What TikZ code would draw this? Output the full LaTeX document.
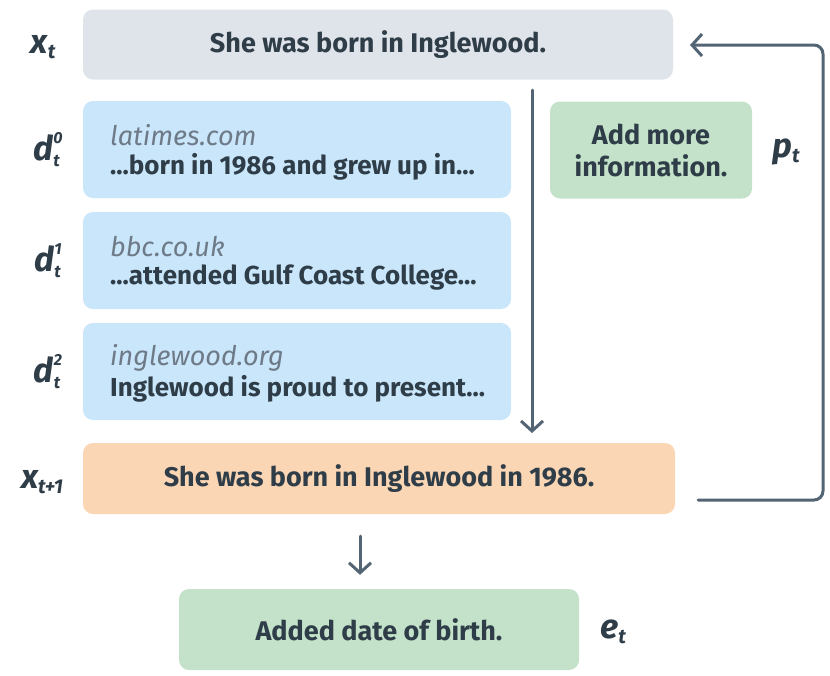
\documentclass[tikz,border=0pt]{standalone}
\usepackage{fontspec}
\setmainfont{Fira Sans}
\usetikzlibrary{arrows.meta}

\definecolor{ink}{HTML}{2E3D48}
\definecolor{line}{HTML}{536474}
\definecolor{site}{HTML}{6E7A88}
\definecolor{grayfill}{HTML}{DFE3EA}
\definecolor{bluefill}{HTML}{C9E6FA}
\definecolor{greenfill}{HTML}{C4E2CA}
\definecolor{orangefill}{HTML}{FBD6B4}

% variable with subscript, or with stacked super- and subscript
\newcommand{\symsub}[2]{#1\raisebox{-5pt}{\fontsize{20}{20}\selectfont #2}}
\newcommand{\symboth}[3]{#1\raisebox{-6pt}{\fontsize{17}{23}\selectfont
  \begin{tabular}[b]{@{}l@{}}\fontsize{16}{23}\selectfont #3\\#2\end{tabular}}}
\newcommand{\ellip}{...}

\begin{document}
\begin{tikzpicture}
  [x=1pt,y=-1pt,every node/.style={inner sep=0pt,text=ink,font=\fontsize{27}{32}\selectfont\bfseries},
   box/.style={rounded corners=10pt,minimum height=#1},
   lbl/.style={font=\fontsize{34}{36}\selectfont\bfseries\itshape},
   link/.style={draw=line,line width=3pt,line cap=round,-{Straight Barb[length=10pt,width=22pt,line width=3pt]}}]
  \useasboundingbox (0,0) rectangle (830,675);

  \node[box=70pt,fill=grayfill,minimum width=590pt] (xt) at (378,44.5) {She was born in Inglewood.};
  \node[box=97pt,fill=greenfill,minimum width=202pt,align=center] (pt) at (651,150) {Add more\\information.};
  \node[box=71pt,fill=orangefill,minimum width=592pt] (xnext) at (379,478.5) {She was born in Inglewood in 1986.};
  \node[box=81pt,fill=greenfill,minimum width=400pt] (et) at (379,629.5) {Added date of birth.};

  \foreach \i/\y/\site/\snip in {0/149.5/latimes.com/\ellip born in 1986 and grew up in\ellip,
                                 1/260.5/bbc.co.uk/\ellip attended Gulf Coast College\ellip,
                                 2/371.5/inglewood.org/Inglewood is proud to present\ellip}
  {
    \node[box=97pt,fill=bluefill,minimum width=428pt] (d\i) at (297,\y) {};
    \node[anchor=west,text=site,font=\fontsize{27}{32}\selectfont\itshape] (s\i) at (110,\y-14) {\site};
    \node[anchor=west,font=\fontsize{26}{32}\selectfont\bfseries] (t\i) at (110,\y+17) {\snip};
    \node[lbl] (ld\i) at (48,\y+1) {\symboth{d}{t}{\i}};
  }

  \node[lbl] (lxt) at (43,47) {\symsub{x}{t}};
  \node[lbl] (lxnext) at (42,482) {\symsub{x}{t+1}};
  \node[lbl] (lpt) at (786,152) {\symsub{p}{t}};
  \node[lbl] (let) at (613,632) {\symsub{e}{t}};

  \coordinate (vtop) at (532,90);
  \coordinate (vend) at (532,433);
  \coordinate (fb0) at (698,500);
  \coordinate (fb1) at (823,500);
  \coordinate (fb2) at (823,45);
  \coordinate (fb3) at (690,45);

  \draw[link] (vtop) -- (vend);
  \draw[link,rounded corners=9pt] (fb0) -- (fb1) -- (fb2) -- (fb3);
  \draw[link,shorten <=22pt,shorten >=14pt] (xnext.south -| 360,0) -- (et.north -| 360,0);

\end{tikzpicture}
\end{document}
